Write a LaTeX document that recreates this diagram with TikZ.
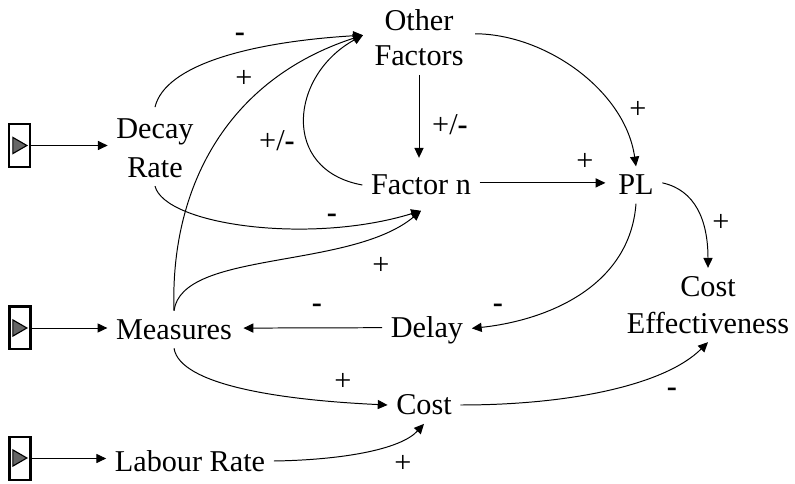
\documentclass[tikz,border=0pt]{standalone}
\usepackage{fontspec}
\setmainfont{Liberation Serif}
\usetikzlibrary{arrows.meta,shapes.geometric}
\tikzset{
  var/.style={font=\fontsize{21.5}{25}\selectfont,align=center,inner sep=6pt},
  sign/.style={font=\fontsize{21.5}{25}\selectfont,inner sep=0pt},
  link/.style={-{Triangle[length=7pt,width=6.5pt]},line width=0.7pt},
  source/.style={draw,line width=1.5pt,minimum width=15pt,minimum height=30.5pt,inner sep=0pt},
  play/.style={isosceles triangle,isosceles triangle apex angle=60,fill=black!60,draw=black,line width=0.8pt,minimum width=10pt,minimum height=10pt,inner sep=0pt}
}
\begin{document}
\begin{tikzpicture}[x=0.025cm,y=-0.025cm]
\useasboundingbox (0,0) rectangle (795,484);

\node[var] (other) at (419,38) {Other\\Factors};
\node[var] (decay) at (155,148) {Decay\\[2.5pt]Rate};
\node[var] (factor) at (421,185) {Factor n};
\node[var] (pl) at (636,185) {PL};
\node[var] (effect) at (708,305) {Cost\\[1pt]Effectiveness};
\node[var] (measures) at (174,329.5) {Measures};
\node[var] (delay) at (427,330.5) {Delay};
\node[var] (cost) at (424,405) {Cost};
\node[var] (labour) at (190,461) {Labour Rate};

\node[source] (src1) at (19.5,145.5) {};
\node[source] (src2) at (20,328) {};
\node[source] (src3) at (20,458.5) {};
\node[play] (play1) at (17.5,145.5) {};
\node[play] (play2) at (17.5,328) {};
\node[play] (play3) at (17.5,458) {};

\draw[link] (src1) -- (src1 -| decay.west);
\draw[link] (src2) -- (src2 -| measures.west);
\draw[link] (src3) -- (src3 -| labour.west);

\draw[link] (other) -- ([yshift=6pt]other |- factor.north);
\draw[link] ([yshift=1.5pt]factor.east) -- ([xshift=-3pt,yshift=1.5pt]pl.west);
\draw[link] ([yshift=2pt]delay.west) -- ([xshift=2pt,yshift=1pt]measures.east);

\draw[link] ([yshift=2pt]decay.north) .. controls (165,65) and (250,42) .. ([xshift=-2pt,yshift=2pt]other.west);
\draw[link] (measures.north) .. controls (170,190) and (225,80) .. ([xshift=-2pt,yshift=2pt]other.west);
\draw[link] (factor.west) .. controls (280,170) and (290,75) .. ([xshift=-2pt,yshift=2pt]other.west);
\draw[link] (decay.south) .. controls (165,225) and (310,245) .. ([yshift=-5pt]factor.south);
\draw[link] (measures.north) .. controls (182,250) and (350,270) .. ([yshift=-5pt]factor.south);
\draw[link] ([xshift=2pt,yshift=3pt]other.east) .. controls (545,34) and (625,90) .. (pl.north);
\draw[link] ([yshift=1.5pt]pl.east) .. controls (695,190) and (708,220) .. (effect.north);
\draw[link] (pl.south) .. controls (630,285) and (550,320) .. ([yshift=1.5pt]delay.east);
\draw[link] (measures.south) .. controls (180,385) and (280,400) .. (cost.west);
\draw[link] (cost.east) .. controls (570,405) and (665,385) .. (effect.south);
\draw[link] (labour.east) .. controls (340,460) and (400,450) .. (cost.south);

\node[sign] (s1) at (240,37) {\textbf{-}};
\node[sign] (s2) at (244,79) {+};
\node[sign] (s3) at (277,141) {+/\textbf{-}};
\node[sign] (s4) at (450,125) {+/\textbf{-}};
\node[sign] (s5) at (585,162) {+};
\node[sign] (s6) at (638,110) {+};
\node[sign] (s7) at (721,223) {+};
\node[sign] (s8) at (332,218) {\textbf{-}};
\node[sign] (s9) at (381,266) {+};
\node[sign] (s10) at (498,308) {\textbf{-}};
\node[sign] (s11) at (317,308) {\textbf{-}};
\node[sign] (s12) at (343,382) {+};
\node[sign] (s13) at (672,392) {\textbf{-}};
\node[sign] (s14) at (403,464) {+};
\end{tikzpicture}
\end{document}
